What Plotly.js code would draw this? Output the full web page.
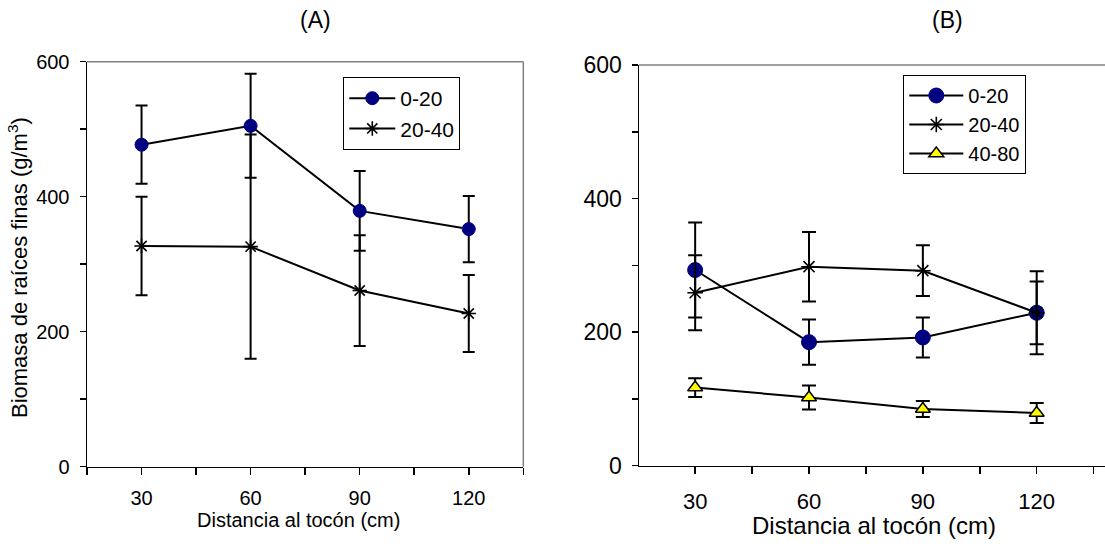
<!DOCTYPE html>
<html>
<head>
<meta charset="utf-8">
<script src="https://cdn.plot.ly/plotly-3.0.1.min.js"></script>
<style>html,body{margin:0;padding:0;background:#fff;}#chart{width:1105px;height:550px;}</style>
</head>
<body>
<div id="chart"></div>
<script>
// ---- data ----
const distances = [30, 60, 90, 120];
const distanceLabels = ["30", "60", "90", "120"];
const seriesNames = ["0-20", "20-40", "40-80"];

// Panel (A)
const a_0_20 = [477, 505, 379, 352];
const a_0_20_err = [58, 77, 59, 49];
const a_20_40 = [327, 326, 261, 227];
const a_20_40_err = [73, 166, 82, 57];

// Panel (B)
const b_0_20 = [293, 185, 192, 229];
const b_0_20_err = [71, 34, 30, 47];
const b_20_40 = [259, 298, 292, 229];
const b_20_40_err = [56, 52, 38, 62];
const b_40_80 = [117, 102, 85, 79];
const b_40_80_err = [14, 18, 12, 15];

const yTicks = [0, 200, 400, 600];

// ---- styling ----
const FONT = "Liberation Sans, Arial, Helvetica, sans-serif";
const W = 1105, H = 550;

function errBar(arr, w) {
  return {type: "data", array: arr, visible: true, color: "#000", thickness: 2, width: w};
}
function circle(sz) { return {symbol: "circle", size: sz, color: "#000080", line: {color: "#000080", width: 1}}; }
function star(sz) { return {symbol: "asterisk-open", size: sz, color: "#000", line: {color: "#000", width: 1.6}}; }
function tri(sz) { return {symbol: "triangle-up", size: sz, color: "#FFFF00", line: {color: "#000", width: 1.5}}; }

const lineStyle = {color: "#000", width: 2};

const traces = [
  {x: distances, y: a_0_20, error_y: errBar(a_0_20_err, 6), mode: "lines+markers", name: seriesNames[0],
   line: lineStyle, marker: circle(13), xaxis: "x", yaxis: "y", legend: "legend"},
  {x: distances, y: a_20_40, error_y: errBar(a_20_40_err, 6), mode: "lines+markers", name: seriesNames[1],
   line: lineStyle, marker: star(12), xaxis: "x", yaxis: "y", legend: "legend"},
  {x: distances, y: b_0_20, error_y: errBar(b_0_20_err, 7), mode: "lines+markers", name: seriesNames[0],
   line: lineStyle, marker: circle(15), xaxis: "x2", yaxis: "y2", legend: "legend2"},
  {x: distances, y: b_20_40, error_y: errBar(b_20_40_err, 7), mode: "lines+markers", name: seriesNames[1],
   line: lineStyle, marker: star(13), xaxis: "x2", yaxis: "y2", legend: "legend2"},
  {x: distances, y: b_40_80, error_y: errBar(b_40_80_err, 7), mode: "lines+markers", name: seriesNames[2],
   line: lineStyle, marker: tri(13), xaxis: "x2", yaxis: "y2", legend: "legend2"}
];

function xAxis(domain, range, fs, anchor, standoff) {
  return {
    domain: domain, range: range, anchor: anchor,
    tickmode: "array", tickvals: distances, ticktext: distanceLabels,
    ticks: "outside", ticklen: 7, tickwidth: 1.5, tickcolor: "#000",
    minor: {tick0: 15, dtick: 30, ticks: "outside", ticklen: 7, tickwidth: 1.5, tickcolor: "#000", showgrid: false},
    showline: true, linecolor: "#000", linewidth: 1.5,
    showgrid: false, zeroline: false, fixedrange: true,
    tickfont: {family: FONT, size: fs, color: "#000"},
    ticklabelstandoff: standoff, automargin: false
  };
}
function yAxis(domain, fs, anchor, standoff) {
  return {
    domain: domain, range: [0, 600], anchor: anchor,
    tickmode: "array", tickvals: yTicks,
    ticks: "outside", ticklen: 6, tickwidth: 1.5, tickcolor: "#000",
    minor: {dtick: 100, ticks: "outside", ticklen: 6, tickwidth: 1.5, tickcolor: "#000", showgrid: false},
    showline: true, linecolor: "#000", linewidth: 1.5,
    showgrid: false, zeroline: false, fixedrange: true,
    tickfont: {family: FONT, size: fs, color: "#000"},
    ticklabelstandoff: standoff, automargin: false
  };
}

const layout = {
  width: W, height: H,
  margin: {l: 0, r: 0, t: 0, b: 0},
  paper_bgcolor: "#fff", plot_bgcolor: "#fff",
  showlegend: true,
  xaxis: xAxis([87 / W, 523.3 / W], [15, 135], 20, "y", 6),
  yaxis: yAxis([1 - 466.7 / H, 1 - 61.7 / H], 20, "x", 6),
  xaxis2: xAxis([639 / W, 1], [15.2, 138], 22, "y2", 8),
  yaxis2: yAxis([1 - 465.7 / H, 1 - 65 / H], 23, "x2", 5),
  legend: {
    x: 343.3 / W, y: 1 - 77 / H, xanchor: "left", yanchor: "top",
    bordercolor: "#000", borderwidth: 1, bgcolor: "#fff",
    font: {family: FONT, size: 21, color: "#000"},
    itemwidth: 46
  },
  legend2: {
    x: 903.3 / W, y: 1 - 75 / H, xanchor: "left", yanchor: "top",
    bordercolor: "#000", borderwidth: 1, bgcolor: "#fff",
    font: {family: FONT, size: 20, color: "#000"},
    itemwidth: 54
  },
  shapes: [
    // plot-area borders (grey, Excel style) — top and right
    {type: "line", xref: "x domain", yref: "y domain", x0: 0, x1: 1, y0: 1, y1: 1, line: {color: "#808080", width: 1.5}, layer: "below"},
    {type: "line", xref: "x domain", yref: "y domain", x0: 1, x1: 1, y0: 0, y1: 1, line: {color: "#808080", width: 1.5}, layer: "below"},
    {type: "line", xref: "x2 domain", yref: "y2 domain", x0: 0, x1: 1, y0: 1, y1: 1, line: {color: "#808080", width: 1.5}, layer: "below"}
  ],
  annotations: [
    {text: "(A)", xref: "paper", yref: "paper", x: 315 / W, y: 1 - 20 / H, xanchor: "center", yanchor: "middle", showarrow: false,
     font: {family: FONT, size: 23, color: "#000"}},
    {text: "(B)", xref: "paper", yref: "paper", x: 947 / W, y: 1 - 20 / H, xanchor: "center", yanchor: "middle", showarrow: false,
     font: {family: FONT, size: 23, color: "#000"}},
    {text: "Distancia al tocón (cm)", xref: "paper", yref: "paper", x: 298 / W, y: 1 - 520 / H, xanchor: "center", yanchor: "middle", showarrow: false,
     font: {family: FONT, size: 20, color: "#000"}},
    {text: "Distancia al tocón (cm)", xref: "paper", yref: "paper", x: 874 / W, y: 1 - 525 / H, xanchor: "center", yanchor: "middle", showarrow: false,
     font: {family: FONT, size: 24, color: "#000"}},
    {text: "Biomasa de raíces finas (g/m<sup>3</sup>)", xref: "paper", yref: "paper", x: 18 / W, y: 1 - 268 / H, xanchor: "center", yanchor: "middle",
     textangle: -90, showarrow: false, font: {family: FONT, size: 22, color: "#000000"}}
  ]
};

Plotly.newPlot("chart", traces, layout, {displayModeBar: false, staticPlot: true});
</script>
</body>
</html>
